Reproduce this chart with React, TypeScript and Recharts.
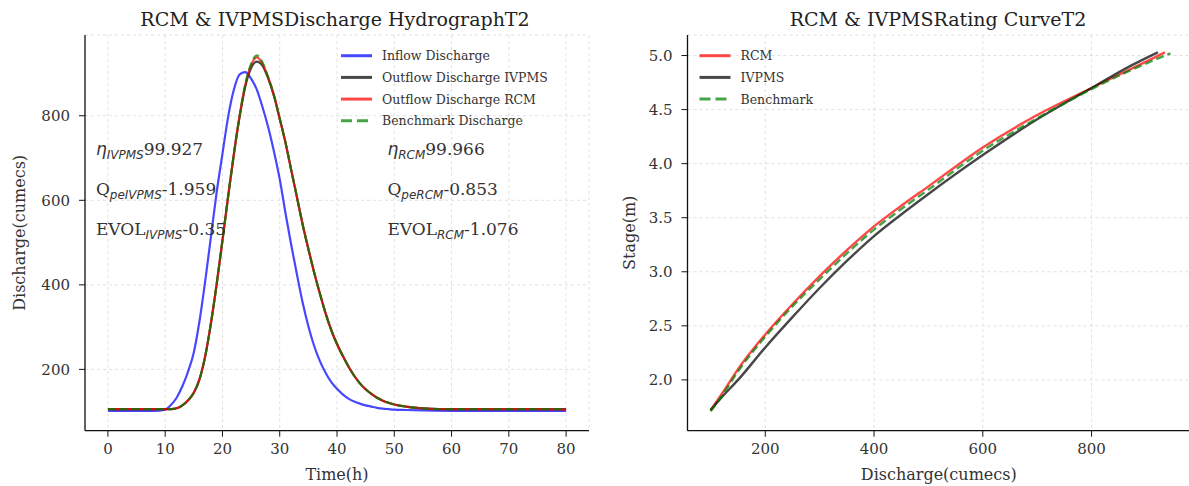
import React from "react";
import {
  LineChart,
  Line,
  XAxis,
  YAxis,
  CartesianGrid,
  ReferenceDot,
} from "recharts";

const SERIF = "'DejaVu Serif', serif";
const SANS = "'DejaVu Sans', sans-serif";

// hydrograph (time in hours, discharge in cumecs)
const TIME = [
  0, 2, 4, 6, 8, 10, 11, 12, 13, 14, 15, 16, 17, 18, 19, 20, 21, 22, 23, 24,
  25, 26, 27, 28, 29, 30, 31, 32, 33, 34, 35, 36, 37, 38, 39, 40, 41, 42, 43,
  44, 45, 46, 47, 48, 49, 50, 52, 55, 60, 65, 70, 75, 80,
];
const INFLOW = [
  102, 102, 102, 102, 102, 105, 116, 133, 160, 195, 240, 315, 410, 515, 620,
  710, 798, 862, 898, 903, 888, 862, 820, 772, 715, 650, 570, 495, 425, 358,
  302, 256, 220, 192, 170, 154, 141, 131, 124, 119, 115, 112, 109, 107, 106,
  105, 104, 103, 102, 102, 102, 102, 102,
];
const OUTFLOW_IVPMS = [
  106, 106, 106, 106, 106, 106, 106, 108, 115, 127, 145, 177, 232, 310, 403,
  505, 610, 710, 798, 870, 913, 928, 918, 888, 847, 793, 737, 672, 608, 543,
  485, 430, 380, 333, 293, 260, 232, 207, 185, 167, 153, 142, 133, 126, 121,
  117, 112, 108, 106, 106, 106, 106, 106,
];
const OUTFLOW_RCM = [
  106, 106, 106, 106, 106, 106, 106, 108, 115, 127, 145, 177, 232, 310, 403,
  505, 610, 710, 800, 874, 920, 938, 923, 890, 848, 793, 737, 672, 608, 543,
  485, 430, 380, 333, 293, 260, 232, 207, 185, 167, 153, 142, 133, 126, 121,
  117, 112, 108, 106, 106, 106, 106, 105,
];
const BENCHMARK = [
  106, 106, 106, 106, 106, 106, 106, 108, 115, 127, 145, 177, 232, 310, 403,
  505, 610, 710, 800, 875, 922, 943, 926, 890, 848, 793, 737, 672, 608, 543,
  485, 430, 380, 333, 293, 260, 232, 207, 185, 167, 153, 142, 133, 126, 121,
  117, 112, 108, 106, 106, 106, 106, 106,
];

// rating curves (discharge -> stage)
const RCM_Q = [99.5, 120, 150, 200, 250, 300, 350, 400, 450, 500, 600, 700, 800, 870, 935];
const RCM_STAGE = [1.72, 1.87, 2.1, 2.42, 2.7, 2.96, 3.2, 3.42, 3.61, 3.79, 4.15, 4.45, 4.7, 4.87, 5.03];
const IVPMS_Q = [99.5, 120, 150, 200, 250, 300, 350, 400, 450, 500, 600, 700, 800, 870, 922];
const IVPMS_STAGE = [1.72, 1.84, 2.0, 2.3, 2.58, 2.85, 3.1, 3.33, 3.53, 3.72, 4.08, 4.41, 4.7, 4.9, 5.03];
const BENCH_Q = [99.5, 120, 150, 200, 250, 300, 350, 400, 450, 500, 600, 700, 800, 870, 945];
const BENCH_STAGE = [1.71, 1.85, 2.08, 2.4, 2.68, 2.93, 3.17, 3.39, 3.58, 3.76, 4.12, 4.42, 4.69, 4.86, 5.02];

const HYDRO_X_TICKS = [0, 10, 20, 30, 40, 50, 60, 70, 80];
const HYDRO_Y_TICKS = [200, 400, 600, 800];
const RATING_X_TICKS = [200, 400, 600, 800];
const RATING_Y_TICKS = [2.0, 2.5, 3.0, 3.5, 4.0, 4.5, 5.0];

const HYDRO_NAMES = ["Inflow Discharge", "Outflow Discharge IVPMS", "Outflow Discharge RCM", "Benchmark Discharge"];
const RATING_NAMES = ["RCM", "IVPMS", "Benchmark"];

const STATS_IVPMS = ["99.927", "-1.959", "-0.35"];
const STATS_RCM = ["99.966", "-0.853", "-1.076"];

const hydroData = TIME.map((t, i) => ({
  t,
  inflow: INFLOW[i],
  ivpms: OUTFLOW_IVPMS[i],
  rcm: OUTFLOW_RCM[i],
  bench: BENCHMARK[i],
}));
const toRows = (q: number[], s: number[]) => q.map((v, i) => ({ q: v, s: s[i] }));
const rcmRating = toRows(RCM_Q, RCM_STAGE);
const ivpmsRating = toRows(IVPMS_Q, IVPMS_STAGE);
const benchRating = toRows(BENCH_Q, BENCH_STAGE);

const BLUE = "#0000ff";
const BLACK = "#000000";
const RED = "#ff0000";
const GREEN = "#008000";
const OPACITY = 0.72;

const tickStyle = { fill: "#333", fontSize: 15, fontFamily: SERIF };
const labelStyle = { fill: "#333", fontSize: 16, fontFamily: SERIF };

function Annot(props: any) {
  const { cx, cy, main, sub, value } = props;
  const greek = main === "η";
  return (
    <text x={cx} y={cy} fill="#333" fontSize={17} fontFamily={SERIF}>
      <tspan fontFamily={greek ? SANS : SERIF} fontStyle={greek ? "italic" : "normal"}>
        {main}
      </tspan>
      <tspan fontFamily={SANS} fontStyle="italic" fontSize={12} dy={4}>
        {sub}
      </tspan>
      <tspan dy={-4}>{value}</tspan>
    </text>
  );
}

function statDots(x: number, model: string, vals: string[]) {
  const rows = [
    { y: 707, main: "η", sub: model },
    { y: 612, main: "Q", sub: "pe" + model },
    { y: 518, main: "EVOL", sub: model },
  ];
  return rows.map((r, i) => (
    <ReferenceDot
      key={model + i}
      x={x}
      y={r.y}
      r={0}
      ifOverflow="visible"
      shape={(p: any) => <Annot cx={p.cx} cy={p.cy} main={r.main} sub={r.sub} value={vals[i]} />}
    />
  ));
}

function LegendRows({ x, names, colors, dashed }: { x: number; names: string[]; colors: string[]; dashed: boolean[] }) {
  return (
    <g>
      {names.map((n, i) => {
        const y = 55.7 + i * 21.7;
        return (
          <g key={n}>
            <line
              x1={x}
              x2={x + 31}
              y1={y}
              y2={y}
              stroke={colors[i]}
              strokeOpacity={OPACITY}
              strokeWidth={3}
              strokeDasharray={dashed[i] ? "11 5" : undefined}
            />
            <text x={x + 41} y={y + 4.5} fontSize={12.5} fontFamily={SERIF} fill="#333">
              {n}
            </text>
          </g>
        );
      })}
    </g>
  );
}

export default function App() {
  return (
    <div
      style={{
        position: "absolute",
        left: 0,
        top: 0,
        width: 1189,
        height: 486,
        overflow: "hidden",
        background: "#fff",
      }}
    >
      <div style={{ position: "absolute", left: 0, top: 0 }}>
        <LineChart width={600} height={486} data={hydroData} margin={{ top: 35, right: 11, bottom: 0, left: 0 }}>
          <CartesianGrid stroke="#d9d9d9" strokeDasharray="3 3" strokeWidth={0.8} />
          <XAxis
            dataKey="t"
            type="number"
            domain={[-4, 84]}
            allowDataOverflow
            ticks={HYDRO_X_TICKS}
            height={55.3}
            tick={tickStyle}
            tickSize={6}
            tickMargin={7}
            axisLine={{ stroke: "#111", strokeWidth: 1.3 }}
            tickLine={{ stroke: "#111" }}
            label={{ value: "Time(h)", position: "insideBottom", offset: 6, style: labelStyle }}
          />
          <YAxis
            type="number"
            domain={[55, 991]}
            allowDataOverflow
            ticks={HYDRO_Y_TICKS}
            width={85}
            tick={tickStyle}
            tickSize={6}
            tickMargin={9}
            axisLine={{ stroke: "#111", strokeWidth: 1.3 }}
            tickLine={{ stroke: "#111" }}
            label={{
              value: "Discharge(cumecs)",
              angle: -90,
              position: "insideLeft",
              offset: 19,
              style: { ...labelStyle, textAnchor: "middle" },
            }}
          />
          <Line dataKey="inflow" type="monotone" stroke={BLUE} strokeOpacity={OPACITY} strokeWidth={2.2} dot={false} isAnimationActive={false} />
          <Line dataKey="ivpms" type="monotone" stroke={BLACK} strokeOpacity={OPACITY} strokeWidth={2.2} dot={false} isAnimationActive={false} />
          <Line dataKey="rcm" type="monotone" stroke={RED} strokeOpacity={OPACITY} strokeWidth={2.2} dot={false} isAnimationActive={false} />
          <Line dataKey="bench" type="monotone" stroke={GREEN} strokeOpacity={OPACITY} strokeWidth={2.2} strokeDasharray="8 4" dot={false} isAnimationActive={false} />
          {statDots(-2.1, "IVPMS", STATS_IVPMS)}
          {statDots(48.8, "RCM", STATS_RCM)}
        </LineChart>
      </div>
      <div style={{ position: "absolute", left: 600, top: 0 }}>
        <LineChart width={590} height={486} margin={{ top: 35, right: 0, bottom: 0, left: 0 }}>
          <CartesianGrid stroke="#d9d9d9" strokeDasharray="3 3" strokeWidth={0.8} />
          <XAxis
            dataKey="q"
            type="number"
            domain={[57, 981]}
            allowDataOverflow
            ticks={RATING_X_TICKS}
            height={55.3}
            tick={tickStyle}
            tickSize={6}
            tickMargin={7}
            axisLine={{ stroke: "#111", strokeWidth: 1.3 }}
            tickLine={{ stroke: "#111" }}
            label={{ value: "Discharge(cumecs)", position: "insideBottom", offset: 6, style: labelStyle }}
          />
          <YAxis
            dataKey="s"
            type="number"
            domain={[1.53, 5.19]}
            allowDataOverflow
            ticks={RATING_Y_TICKS}
            tickFormatter={(v: number) => v.toFixed(1)}
            width={87.5}
            tick={tickStyle}
            tickSize={6}
            tickMargin={9}
            axisLine={{ stroke: "#111", strokeWidth: 1.3 }}
            tickLine={{ stroke: "#111" }}
            label={{
              value: "Stage(m)",
              angle: -90,
              position: "insideLeft",
              offset: 29,
              style: { ...labelStyle, textAnchor: "middle" },
            }}
          />
          <Line data={rcmRating} dataKey="s" type="monotone" stroke={RED} strokeOpacity={OPACITY} strokeWidth={2.4} dot={false} isAnimationActive={false} />
          <Line data={ivpmsRating} dataKey="s" type="monotone" stroke={BLACK} strokeOpacity={OPACITY} strokeWidth={2.4} dot={false} isAnimationActive={false} />
          <Line data={benchRating} dataKey="s" type="monotone" stroke={GREEN} strokeOpacity={OPACITY} strokeWidth={2.4} strokeDasharray="8 4" dot={false} isAnimationActive={false} />
        </LineChart>
      </div>
      <svg
        width={1189}
        height={486}
        style={{ position: "absolute", left: 0, top: 0, pointerEvents: "none" }}
      >
        <text x={335} y={26} textAnchor="middle" fontSize={19} fontFamily={SERIF} fill="#222">
          RCM &amp; IVPMSDischarge HydrographT2
        </text>
        <text x={938} y={26} textAnchor="middle" fontSize={19} fontFamily={SERIF} fill="#222">
          RCM &amp; IVPMSRating CurveT2
        </text>
        <LegendRows x={341} names={HYDRO_NAMES} colors={[BLUE, BLACK, RED, GREEN]} dashed={[false, false, false, true]} />
        <LegendRows x={699.5} names={RATING_NAMES} colors={[RED, BLACK, GREEN]} dashed={[false, false, true]} />
      </svg>
    </div>
  );
}
